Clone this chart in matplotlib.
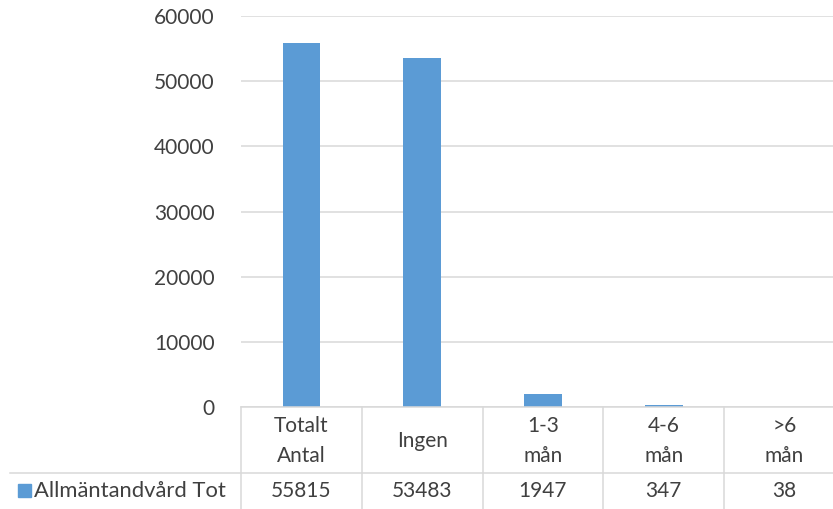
import matplotlib.pyplot as plt
from matplotlib.lines import Line2D
from matplotlib.patches import Rectangle
import matplotlib.transforms as mtransforms

categories = ["Totalt\nAntal", "Ingen", "1-3\nmån", "4-6\nmån", ">6\nmån"]
values = [55815, 53483, 1947, 347, 38]
series_name = "Allmäntandvård Tot"

bar_color = "#5B9BD5"
grid_color = "#D9D9D9"
text_color = "#404040"
W, H = 833, 509

plt.rcParams['font.family'] = ['Lato', 'DejaVu Sans']

fig = plt.figure(figsize=(W / 100, H / 100), dpi=100)
# plot area continues past the right edge, like the original
ax = fig.add_axes([241 / W, (H - 407) / H, (845 - 241) / W, (407 - 16) / H])

x = list(range(len(categories)))
ax.bar(x, values, width=0.31, color=bar_color, zorder=2)
ax.set_xlim(-0.5, len(categories) - 0.5)
ax.set_ylim(0, 60000)
ax.set_yticks(range(0, 60001, 10000))
ax.set_xticks([])
ax.yaxis.grid(True, color=grid_color, linewidth=1.1, zorder=0)
ax.tick_params(axis="y", length=0, pad=19, labelsize=15, labelcolor=text_color)
for s in ax.spines.values():
    s.set_visible(False)

# data table under the plot
tr = mtransforms.blended_transform_factory(ax.transData, ax.transAxes)
ph = 407 - 16
def ay(py):
    return (407 - py) / ph

for xi, cat, val in zip(x, categories, values):
    ax.text(xi, ay(441), cat, transform=tr, ha="center", va="center",
            fontsize=15, color=text_color, linespacing=1.65, clip_on=False)
    ax.text(xi, ay(491), str(val), transform=tr, ha="center", va="center",
            fontsize=15, color=text_color, clip_on=False)

lw = 1.1
fig.add_artist(Line2D([241 / W, 1], [(H - 407) / H] * 2, color=grid_color, lw=lw))
fig.add_artist(Line2D([10 / W, 1], [(H - 473) / H] * 2, color=grid_color, lw=lw))
for i in range(len(categories)):
    ax.add_line(Line2D([i - 0.5, i - 0.5], [ay(407), ay(509)], transform=tr,
                       color=grid_color, lw=lw, clip_on=False))

fig.add_artist(Rectangle((18 / W, (H - 497) / H), 13 / W, 13 / H,
                         transform=fig.transFigure, color=bar_color))
fig.text(34 / W, (H - 491) / H, series_name, ha="left", va="center",
         fontsize=15.8, color=text_color)

plt.savefig("out.png", dpi=100)
